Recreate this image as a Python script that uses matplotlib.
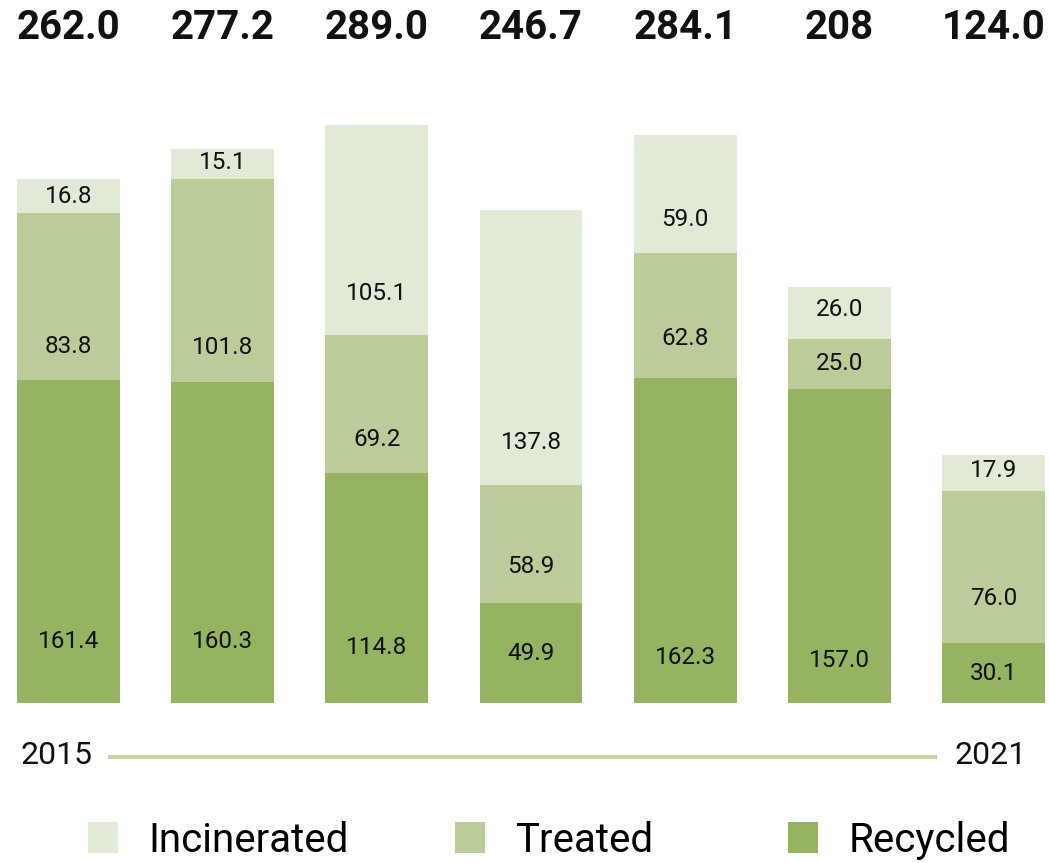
import matplotlib.pyplot as plt
from matplotlib.lines import Line2D
from matplotlib.transforms import blended_transform_factory

plt.rcParams['font.family'] = ['Roboto', 'DejaVu Sans']

years = ['2015', '2016', '2017', '2018', '2019', '2020', '2021']
recycled = [161.4, 160.3, 114.8, 49.9, 162.3, 157.0, 30.1]
treated = [83.8, 101.8, 69.2, 58.9, 62.8, 25.0, 76.0]
incinerated = [16.8, 15.1, 105.1, 137.8, 59.0, 26.0, 17.9]
totals = ['262.0', '277.2', '289.0', '246.7', '284.1', '208', '124.0']

# where the number sits inside each segment (units above the segment bottom)
lift_recycled = [31, 31, 28, 24.5, 23, 21.5, 15]
lift_treated = [17, 17.5, 17, 18.5, 20, 12.5, 22]
lift_incinerated = [8, 8, 20.5, 21.5, 16.5, 14.5, 10]

c_rec = '#95b360'
c_treat = '#bccb9a'
c_inc = '#e1e9d7'
c_text = '#111111'

W, H = 1049, 863
fig = plt.figure(figsize=(W / 100, H / 100), dpi=100)
ax = fig.add_axes([17 / W, (H - 703) / H, (1045 - 17) / W, 600 / H])

x = list(range(len(years)))
bw = 0.668
bottom2 = [r + t for r, t in zip(recycled, treated)]
b1 = ax.bar(x, recycled, width=bw, color=c_rec, label='Recycled')
b2 = ax.bar(x, treated, width=bw, bottom=recycled, color=c_treat, label='Treated')
b3 = ax.bar(x, incinerated, width=bw, bottom=bottom2, color=c_inc, label='Incinerated')

top_tr = blended_transform_factory(ax.transData, fig.transFigure)
for i in x:
    ax.text(i, lift_recycled[i], f'{recycled[i]:.1f}', ha='center', va='center',
            fontsize=17.5, color=c_text)
    ax.text(i, recycled[i] + lift_treated[i], f'{treated[i]:.1f}', ha='center',
            va='center', fontsize=17.5, color=c_text)
    ax.text(i, bottom2[i] + lift_incinerated[i], f'{incinerated[i]:.1f}', ha='center',
            va='center', fontsize=17.5, color=c_text)
    ax.text(i, 1 - 28 / H, totals[i], ha='center', va='center', fontsize=29,
            fontweight='bold', color=c_text, transform=top_tr)

ax.set_xlim(-bw / 2, len(years) - 1 + bw / 2)
ax.set_ylim(0, 300)
ax.axis('off')

# time axis under the bars
fig.text(57 / W, 1 - 755 / H, years[0], ha='center', va='center', fontsize=23, color=c_text)
fig.text(991 / W, 1 - 755 / H, years[-1], ha='center', va='center', fontsize=23, color=c_text)
fig.add_artist(Line2D([110 / W, 935 / W], [1 - 757 / H, 1 - 757 / H],
                      transform=fig.transFigure, color='#c5d4a8', lw=3))

# legend, one entry each
for handle, xpos in [(b3, 88), (b2, 455), (b1, 788)]:
    fig.legend(handles=[handle], loc='center left', bbox_to_anchor=(xpos / W, 1 - 840 / H),
               frameon=False, fontsize=29, handlelength=0.74, handleheight=0.79,
               handletextpad=0.76, borderpad=0, borderaxespad=0)

fig.savefig('out.png', dpi=100)
